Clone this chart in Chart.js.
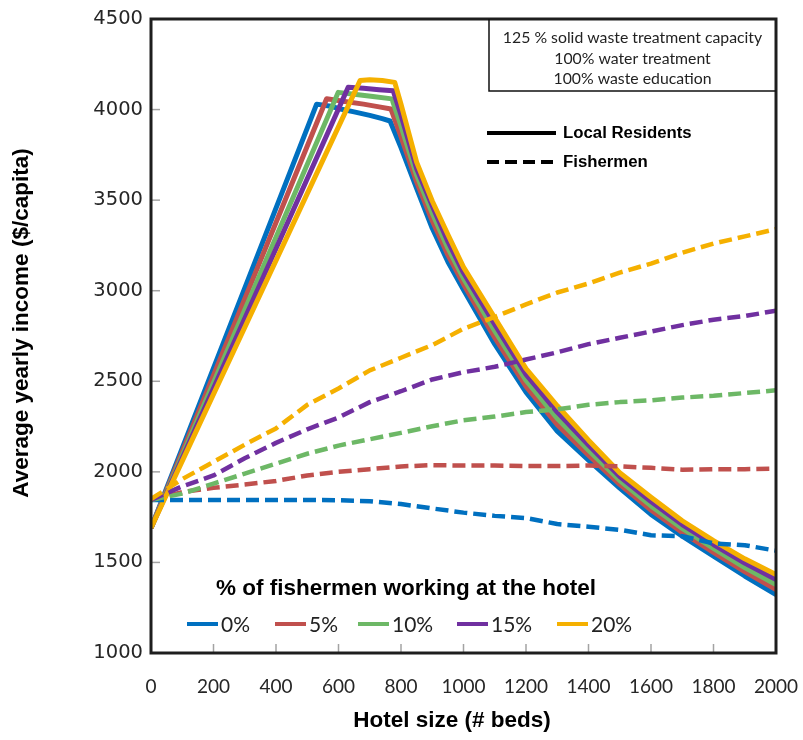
<!DOCTYPE html>
<html>
<head>
<meta charset="utf-8">
<title>Average yearly income vs hotel size</title>
<script src="https://cdn.jsdelivr.net/npm/chart.js@4.4.1/dist/chart.umd.min.js"></script>
<style>
  html, body { margin: 0; padding: 0; background: #ffffff; }
  #wrap { width: 803px; height: 740px; position: relative; }
  canvas { display: block; }
</style>
</head>
<body>
<div id="wrap"><canvas id="chart" width="803" height="740"></canvas></div>
<script>
// ---- axis ticks ----
const bedTicks = [0, 200, 400, 600, 800, 1000, 1200, 1400, 1600, 1800, 2000];
const incomeTicks = [1000, 1500, 2000, 2500, 3000, 3500, 4000, 4500];

// ---- series names ----
const shares = ['0%', '5%', '10%', '15%', '20%'];
const xTitle = 'Hotel size (# beds)';
const yTitle = 'Average yearly income ($/capita)';
const scenarioLines = ['125 % solid waste treatment capacity', '100% water treatment', '100% waste education'];
const legendTitle = '% of fishermen working at the hotel';
const groupNames = ['Local Residents', 'Fishermen'];

// ---- local residents income: [hotel beds, $/capita] ----
const resident0 = [[0,1690],[530,4030],[570,4020],[610,4002],[650,3987],[700,3968],[740,3950],[765,3937],
  [800,3790],[850,3565],[900,3345],[950,3160],[1000,3005],[1100,2705],[1200,2440],[1300,2225],
  [1400,2065],[1500,1910],[1600,1765],[1700,1645],[1800,1535],[1900,1425],[2000,1322]];
const resident5 = [[0,1690],[562,4060],[620,4045],[680,4030],[730,4015],[768,4003],
  [800,3850],[850,3601],[900,3386],[950,3198],[1000,3036],[1100,2741],[1200,2472],[1300,2260],
  [1400,2092],[1500,1931],[1600,1789],[1700,1666],[1800,1556],[1900,1449],[2000,1350]];
const resident10 = [[0,1690],[599,4095],[650,4085],[710,4072],[771,4059],
  [800,3910],[850,3638],[900,3428],[950,3235],[1000,3068],[1100,2778],[1200,2505],[1300,2295],
  [1400,2120],[1500,1952],[1600,1812],[1700,1688],[1800,1578],[1900,1472],[2000,1378]];
const resident15 = [[0,1690],[631,4123],[680,4118],[730,4110],[775,4104],
  [800,3970],[850,3674],[900,3469],[950,3272],[1000,3099],[1100,2814],[1200,2538],[1300,2330],
  [1400,2148],[1500,1974],[1600,1836],[1700,1709],[1800,1599],[1900,1496],[2000,1405]];
const resident20 = [[0,1690],[669,4160],[700,4165],[740,4160],[780,4150],
  [800,4030],[850,3710],[900,3495],[950,3310],[1000,3130],[1100,2850],[1200,2570],[1300,2365],
  [1400,2175],[1500,1995],[1600,1860],[1700,1730],[1800,1620],[1900,1520],[2000,1433]];

// ---- fishermen income, sampled every 100 beds ----
const fishBeds = [0,100,200,300,400,500,600,700,800,900,1000,1100,1200,1300,1400,1500,1600,1700,1800,1900,2000];
const fish0  = [1845,1845,1845,1845,1845,1845,1843,1838,1822,1798,1775,1757,1745,1712,1697,1680,1650,1645,1605,1595,1565];
const fish5  = [1845,1888,1912,1930,1950,1980,2000,2015,2030,2037,2035,2035,2032,2032,2035,2030,2022,2012,2015,2015,2018];
const fish10 = [1845,1880,1935,1990,2045,2100,2145,2180,2215,2252,2285,2305,2330,2345,2370,2385,2395,2410,2420,2435,2450];
const fish15 = [1845,1920,1980,2075,2160,2235,2300,2385,2445,2510,2550,2580,2620,2660,2705,2740,2775,2810,2840,2860,2890];
const fish20 = [1850,1960,2055,2150,2240,2370,2460,2560,2630,2700,2790,2855,2925,2990,3040,3100,3150,3210,3260,3300,3340];

const lineColors = ['#0070C0', '#C0504D', '#6DB866', '#7030A0', '#F5B000'];

const residentSeries = [resident0, resident5, resident10, resident15, resident20];
const fisherSeries = [fish0, fish5, fish10, fish15, fish20];

const datasets = [];
residentSeries.forEach((pts, i) => {
  datasets.push({
    label: groupNames[0] + ' ' + shares[i],
    data: pts.map(([x, y]) => ({ x, y })),
    borderColor: lineColors[i],
    backgroundColor: lineColors[i],
    borderWidth: 5,
    borderJoinStyle: 'round',
    order: 9 - i
  });
});
fisherSeries.forEach((vals, i) => {
  datasets.push({
    label: groupNames[1] + ' ' + shares[i],
    data: vals.map((y, k) => ({ x: fishBeds[k], y })),
    borderColor: lineColors[i],
    backgroundColor: lineColors[i],
    borderWidth: 4.5,
    borderDash: [13, 6],
    borderJoinStyle: 'round',
    order: 4 - i
  });
});

// inner tick marks, plot frame, axis titles, scenario box and keys
const overlay = {
  id: 'overlay',
  beforeDatasetsDraw(chart) {
    const { ctx, chartArea: a, scales } = chart;
    ctx.save();
    ctx.strokeStyle = '#a3a3a3';
    ctx.lineWidth = 1.5;
    scales.y.ticks.forEach(t => {
      const py = scales.y.getPixelForValue(t.value);
      ctx.beginPath(); ctx.moveTo(a.left, py); ctx.lineTo(a.left + 9, py); ctx.stroke();
    });
    scales.x.ticks.forEach(t => {
      const px = scales.x.getPixelForValue(t.value);
      ctx.beginPath(); ctx.moveTo(px, a.bottom); ctx.lineTo(px, a.bottom - 9); ctx.stroke();
    });
    ctx.restore();
  },
  afterDraw(chart) {
    const { ctx, chartArea: a } = chart;
    ctx.save();

    // frame
    ctx.strokeStyle = '#1e1e1e';
    ctx.lineWidth = 3;
    ctx.strokeRect(a.left, a.top, a.right - a.left, a.bottom - a.top);

    // axis titles
    ctx.font = 'bold 22.5px "Liberation Sans"';
    ctx.fillStyle = '#000';
    ctx.textAlign = 'center';
    ctx.textBaseline = 'middle';
    ctx.fillText(xTitle, 452, 721);
    ctx.save();
    ctx.translate(22, 323);
    ctx.rotate(-Math.PI / 2);
    ctx.fillText(yTitle, 0, 0);
    ctx.restore();

    // scenario box (top right)
    const boxLeft = a.right - 287, boxBottom = a.top + 72;
    ctx.strokeStyle = '#111';
    ctx.lineWidth = 1.5;
    ctx.beginPath();
    ctx.moveTo(boxLeft, a.top); ctx.lineTo(boxLeft, boxBottom); ctx.lineTo(a.right, boxBottom);
    ctx.stroke();
    ctx.font = '15.8px Lato';
    ctx.fillStyle = '#222';
    ctx.textAlign = 'center';
    const cx = (boxLeft + a.right) / 2;
    scenarioLines.forEach((s, i) => ctx.fillText(s, cx, a.top + 19 + i * 20.5));

    // line-style key
    ctx.strokeStyle = '#000';
    ctx.lineWidth = 4;
    ctx.beginPath(); ctx.moveTo(487, 133); ctx.lineTo(556, 133); ctx.stroke();
    ctx.setLineDash([12, 6]);
    ctx.beginPath(); ctx.moveTo(487, 162); ctx.lineTo(556, 162); ctx.stroke();
    ctx.setLineDash([]);
    ctx.font = 'bold 16.8px "Liberation Sans"';
    ctx.fillStyle = '#000';
    ctx.textAlign = 'left';
    ctx.fillText(groupNames[0], 563, 133);
    ctx.fillText(groupNames[1], 563, 162);

    // colour key
    ctx.font = 'bold 22.5px "Liberation Sans"';
    ctx.textAlign = 'center';
    ctx.fillText(legendTitle, 406, 589);
    const keyX = [187, 275, 358, 457, 557];
    ctx.font = '21px Lato';
    ctx.textAlign = 'left';
    ctx.lineWidth = 4;
    shares.forEach((s, i) => {
      ctx.strokeStyle = lineColors[i];
      ctx.beginPath(); ctx.moveTo(keyX[i], 624); ctx.lineTo(keyX[i] + 31, 624); ctx.stroke();
      ctx.fillStyle = '#222';
      ctx.fillText(s, keyX[i] + 34, 625);
    });
    ctx.restore();
  }
};

function draw() {
  new Chart(document.getElementById('chart'), {
    type: 'line',
    data: { datasets },
    options: {
      responsive: false,
      animation: false,
      devicePixelRatio: 1,
      layout: { padding: { top: 19, right: 27, left: 0, bottom: 0 } },
      elements: { point: { radius: 0, hoverRadius: 0 }, line: { tension: 0 } },
      plugins: { legend: { display: false }, tooltip: { enabled: false } },
      scales: {
        x: {
          type: 'linear',
          min: 0, max: 2000,
          afterBuildTicks: s => { s.ticks = bedTicks.map(v => ({ value: v })); },
          afterFit: s => { s.height = 87; s.paddingLeft = 0; s.paddingRight = 0; },
          grid: { display: false, drawTicks: false },
          border: { display: false },
          ticks: {
            padding: 22,
            maxRotation: 0,
            autoSkip: false,
            color: '#262626',
            font: { family: 'Lato', size: 19 },
            callback: v => String(v)
          }
        },
        y: {
          type: 'linear',
          min: 1000, max: 4500,
          afterBuildTicks: s => { s.ticks = incomeTicks.map(v => ({ value: v })); },
          afterFit: s => { s.width = 151; s.paddingTop = 0; s.paddingBottom = 0; },
          grid: { display: false, drawTicks: false },
          border: { display: false },
          ticks: {
            padding: 8,
            autoSkip: false,
            color: '#262626',
            font: { family: '"DejaVu Sans"', size: 19.5 },
            callback: v => String(v)
          }
        }
      }
    },
    plugins: [overlay]
  });
}

const fontsReady = document.fonts
  ? Promise.all([
      document.fonts.load('bold 20px "Liberation Sans"'),
      document.fonts.load('19px Lato'),
      document.fonts.load('19px "DejaVu Sans"')
    ]).catch(() => {})
  : Promise.resolve();
fontsReady.then(draw);
</script>
</body>
</html>
